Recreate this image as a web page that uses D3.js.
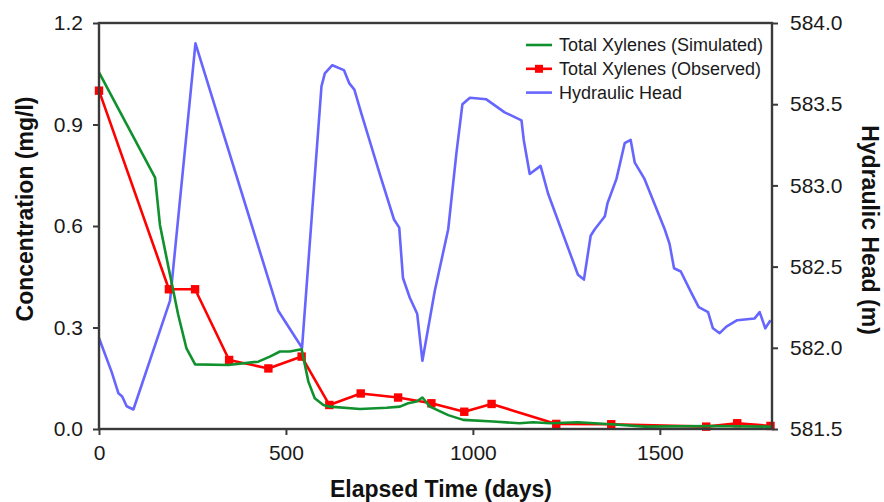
<!DOCTYPE html>
<html>
<head>
<meta charset="utf-8">
<script src="https://cdn.jsdelivr.net/npm/d3@7"></script>
<style>
  html, body { margin: 0; padding: 0; background: #fff; }
  svg { display: block; font-family: "Liberation Sans", Arial, sans-serif; }
</style>
</head>
<body>
<svg id="chart" width="884" height="502"></svg>
<script>
// ---- data ----
const simDays = [0,150,163,190,212,234,257,346,426,457,484,510,542,560,577,600,617,698,769,805,827,849,865,885,934,974,1054,1125,1161,1206,1281,1370,1460,1638,1789,1800];
const simConc = [1.054,0.743,0.603,0.455,0.337,0.238,0.191,0.189,0.199,0.214,0.229,0.229,0.236,0.14,0.091,0.071,0.066,0.059,0.063,0.066,0.076,0.081,0.093,0.066,0.041,0.027,0.022,0.017,0.020,0.017,0.020,0.014,0.007,0.009,0.007,0.006];

const obsDays = [0,187,257,348,453,542,616,700,800,889,977,1050,1223,1370,1624,1707,1796];
const obsConc = [1.0,0.413,0.413,0.204,0.179,0.214,0.071,0.105,0.093,0.076,0.051,0.074,0.015,0.014,0.007,0.017,0.009];

const headDays = [0,34,52,62,74,92,190,258,479,515,543,595,604,624,655,669,683,702,751,789,803,813,831,851,865,898,934,956,972,992,1036,1085,1130,1136,1152,1181,1201,1281,1297,1315,1326,1353,1360,1384,1406,1422,1433,1459,1513,1526,1538,1556,1584,1604,1629,1642,1660,1678,1707,1753,1767,1782,1796];
const headVals = [582.06,581.85,581.72,581.70,581.64,581.62,582.29,583.875,582.23,582.10,582.0,583.61,583.69,583.74,583.71,583.63,583.59,583.44,583.07,582.79,582.74,582.43,582.31,582.21,581.92,582.35,582.73,583.20,583.50,583.54,583.53,583.45,583.40,583.28,583.07,583.12,582.95,582.45,582.42,582.69,582.73,582.81,582.89,583.04,583.26,583.28,583.14,583.04,582.73,582.64,582.49,582.47,582.34,582.25,582.22,582.12,582.09,582.13,582.17,582.18,582.22,582.12,582.17];

const xTicks = [0,500,1000,1500];
const yTicks = [0,0.3,0.6,0.9,1.2];
const y2Ticks = [581.5,582.0,582.5,583.0,583.5,584.0];

const legendLabels = ["Total Xylenes (Simulated)","Total Xylenes (Observed)","Hydraulic Head"];

// ---- layout ----
const W = 884, H = 502;
const m = {left: 99, top: 23, right: 112, bottom: 73};
const pw = W - m.left - m.right, ph = H - m.top - m.bottom;

const cGreen = "#10912d", cRed = "#ff0000", cBlue = "#6666ff", cAxis = "#3a3a3a";

const svg = d3.select("#chart");
const g = svg.append("g").attr("transform", `translate(${m.left},${m.top})`);

const x = d3.scaleLinear().domain([0,1800]).range([0,pw]);
const y = d3.scaleLinear().domain([0,1.2]).range([ph,0]);
const y2 = d3.scaleLinear().domain([581.5,584.0]).range([ph,0]);

const sim = simDays.map((d,i)=>({d, v: simConc[i]}));
const obs = obsDays.map((d,i)=>({d, v: obsConc[i]}));
const head = headDays.map((d,i)=>({d, v: headVals[i]}));

const line1 = d3.line().x(p=>x(p.d)).y(p=>y(p.v));
const line2 = d3.line().x(p=>x(p.d)).y(p=>y2(p.v));

g.append("path").datum(head).attr("d", line2)
  .attr("fill","none").attr("stroke",cBlue).attr("stroke-width",2.6).attr("stroke-linejoin","round");
g.append("path").datum(obs).attr("d", line1)
  .attr("fill","none").attr("stroke",cRed).attr("stroke-width",2.6).attr("stroke-linejoin","round");
g.selectAll("rect.obs").data(obs).enter().append("rect")
  .attr("class","obs")
  .attr("x", p=>x(p.d)-4.2).attr("y", p=>y(p.v)-4.2)
  .attr("width",8.4).attr("height",8.4).attr("fill",cRed);
g.append("path").datum(sim).attr("d", line1)
  .attr("fill","none").attr("stroke",cGreen).attr("stroke-width",2.6).attr("stroke-linejoin","round");

// ---- axes ----
const fs = 21;
const xAxis = d3.axisBottom(x).tickValues(xTicks).tickSize(6).tickPadding(10).tickFormat(d3.format("d"));
const yAxis = d3.axisLeft(y).tickValues(yTicks).tickSize(6).tickPadding(10).tickFormat(d3.format(".1f"));
const y2Axis = d3.axisRight(y2).tickValues(y2Ticks).tickSize(6).tickPadding(12).tickFormat(d3.format(".1f"));

function styleAxis(sel){
  sel.select(".domain").remove();
  sel.selectAll(".tick line").attr("stroke",cAxis).attr("stroke-width",2);
  sel.selectAll(".tick text").attr("fill","#1a1a1a").style("font-size", fs+"px");
}
g.append("g").attr("transform",`translate(0,${ph})`).call(xAxis).call(styleAxis);
g.append("g").call(yAxis).call(styleAxis);
g.append("g").attr("transform",`translate(${pw},0)`).call(y2Axis).call(styleAxis);

// frame
g.append("rect").attr("x",0).attr("y",0).attr("width",pw).attr("height",ph)
  .attr("fill","none").attr("stroke",cAxis).attr("stroke-width",2.4);

// titles
const tfs = "23px";
svg.append("text").attr("x", 441).attr("y", 497)
  .attr("text-anchor","middle").attr("font-weight","bold").style("font-size",tfs).attr("fill","#111")
  .text("Elapsed Time (days)");
svg.append("text").attr("transform","translate(33,209) rotate(-90)")
  .attr("text-anchor","middle").attr("font-weight","bold").style("font-size",tfs).attr("fill","#111")
  .text("Concentration (mg/l)");
svg.append("text").attr("transform","translate(862,230) rotate(90)")
  .attr("text-anchor","middle").attr("font-weight","bold").style("font-size",tfs).attr("fill","#111")
  .text("Hydraulic Head (m)");

// legend
const leg = svg.append("g").attr("transform","translate(526,45)");
const legColors = [cGreen, cRed, cBlue];
legendLabels.forEach((lab,i)=>{
  const row = leg.append("g").attr("transform",`translate(0,${i*23.8})`);
  row.append("line").attr("x1",0).attr("x2",26).attr("y1",0).attr("y2",0)
    .attr("stroke",legColors[i]).attr("stroke-width",2.6);
  if(i===1) row.append("rect").attr("x",9).attr("y",-4).attr("width",8).attr("height",8).attr("fill",cRed);
  row.append("text").attr("x",33).attr("y",0).attr("dy","0.35em")
    .style("font-size","18px").attr("fill","#1a1a1a").text(lab);
});
</script>
</body>
</html>
